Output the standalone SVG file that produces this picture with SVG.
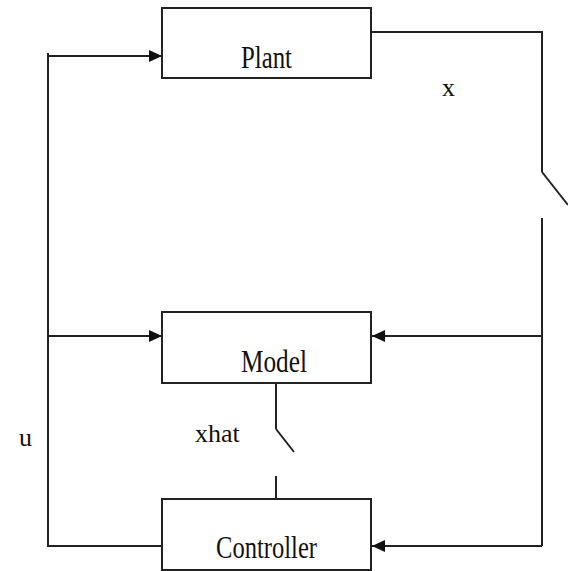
<svg xmlns="http://www.w3.org/2000/svg" width="568" height="571" viewBox="0 0 568 571">
<style>
.box{fill:#fff;stroke:#222;stroke-width:2}
.ln{fill:none;stroke:#222;stroke-width:2}
.t{font-family:"Liberation Serif","Times New Roman",serif;fill:#111}
.big{font-size:32px}
.sm{font-size:26px}
</style>
<defs>
<marker id="ah" markerWidth="13" markerHeight="12" refX="13" refY="6" orient="auto" markerUnits="userSpaceOnUse">
<path d="M0,0 L13,6 L0,12 Z" fill="#111"/>
</marker>
</defs>
<rect width="568" height="571" fill="#fff"/>
<g id="connectors">
<polyline class="ln" points="48,53 48,546 162,546"/>
<line class="ln" x1="48" y1="56" x2="162" y2="56" marker-end="url(#ah)"/>
<line class="ln" x1="48" y1="336" x2="162" y2="336" marker-end="url(#ah)"/>
<polyline class="ln" points="371,32 542,32 542,172"/>
<line class="ln" x1="542" y1="172" x2="568" y2="205" stroke-width="1.5"/>
<polyline class="ln" points="542,218 542,546"/>
<line class="ln" x1="542" y1="336" x2="372" y2="336" marker-end="url(#ah)"/>
<line class="ln" x1="542" y1="546" x2="372" y2="546" marker-end="url(#ah)"/>
<line class="ln" x1="276" y1="383" x2="276" y2="429"/>
<line class="ln" x1="276" y1="429" x2="294" y2="452" stroke-width="1.5"/>
<line class="ln" x1="276" y1="476" x2="276" y2="499"/>
</g>
<g id="plant">
<rect class="box" x="162" y="8" width="209" height="70"/>
<text class="t big" x="241" y="68" textLength="51" lengthAdjust="spacingAndGlyphs">Plant</text>
</g>
<g id="model">
<rect class="box" x="162" y="312" width="209" height="71"/>
<text class="t big" x="241" y="372" textLength="66" lengthAdjust="spacingAndGlyphs">Model</text>
</g>
<g id="controller">
<rect class="box" x="162" y="499" width="209" height="71"/>
<text class="t big" x="216" y="558" textLength="101" lengthAdjust="spacingAndGlyphs">Controller</text>
</g>
<g id="labels">
<text class="t sm" x="442" y="96">x</text>
<text class="t sm" x="19" y="446">u</text>
<text class="t sm" x="195" y="442">xhat</text>
</g>
</svg>
